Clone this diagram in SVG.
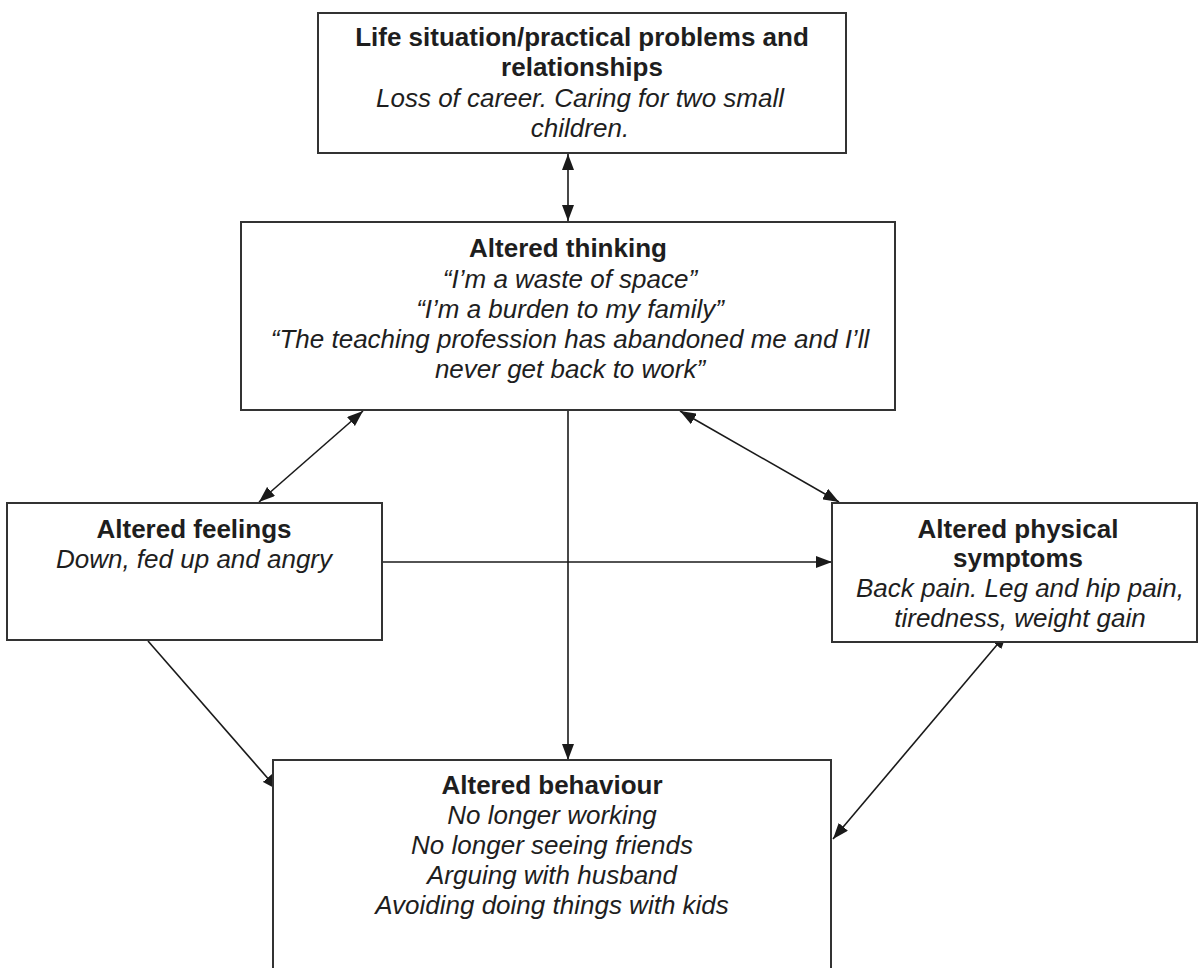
<svg xmlns="http://www.w3.org/2000/svg" width="1199" height="968" viewBox="0 0 1199 968">
<defs>
<marker id="ah" viewBox="0 0 16 12" refX="16" refY="6" markerWidth="16" markerHeight="12" markerUnits="userSpaceOnUse" orient="auto-start-reverse">
<path d="M0,0 L16,6 L0,12 z" fill="#1a1a1a"/>
</marker>
<style>
.box{fill:#fff;stroke:#333;stroke-width:2}
.t{font-family:"Liberation Sans",Arial,sans-serif;font-size:26px;fill:#1e1e1e;text-anchor:middle}
.b{font-weight:bold}
.i{font-style:italic}
.c{stroke:#1a1a1a;stroke-width:1.6;fill:none}
</style>
</defs>
<rect width="1199" height="968" fill="#fff"/>
<g id="connectors">
<line class="c" x1="568" y1="154" x2="568" y2="221" marker-start="url(#ah)" marker-end="url(#ah)"/>
<line class="c" x1="568" y1="411" x2="568" y2="760" marker-end="url(#ah)"/>
<line class="c" x1="363" y1="411" x2="259" y2="502" marker-start="url(#ah)" marker-end="url(#ah)"/>
<line class="c" x1="680" y1="411" x2="839" y2="502" marker-start="url(#ah)" marker-end="url(#ah)"/>
<line class="c" x1="383" y1="562" x2="832" y2="562" marker-end="url(#ah)"/>
<line class="c" x1="148" y1="641" x2="278" y2="790" marker-end="url(#ah)"/>
<line class="c" x1="1007" y1="633" x2="833" y2="839" marker-start="url(#ah)" marker-end="url(#ah)"/>
</g>
<g id="life">
<rect class="box" x="318" y="13" width="528" height="140"/>
<text class="t b" x="582" y="46">Life situation/practical problems and</text>
<text class="t b" x="582" y="76">relationships</text>
<text class="t i" x="580" y="107">Loss of career. Caring for two small</text>
<text class="t i" x="580" y="137">children.</text>
</g>
<g id="thinking">
<rect class="box" x="241" y="222" width="654" height="188"/>
<text class="t b" x="568" y="257">Altered thinking</text>
<text class="t i" x="570" y="288">“I’m a waste of space”</text>
<text class="t i" x="570" y="318">“I’m a burden to my family”</text>
<text class="t i" x="570" y="348">“The teaching profession has abandoned me and I’ll</text>
<text class="t i" x="570" y="378">never get back to work”</text>
</g>
<g id="feelings">
<rect class="box" x="7" y="503" width="375" height="137"/>
<text class="t b" x="194" y="538">Altered feelings</text>
<text class="t i" x="194" y="568">Down, fed up and angry</text>
</g>
<g id="physical">
<rect class="box" x="832" y="503" width="365" height="139"/>
<text class="t b" x="1018" y="538">Altered physical</text>
<text class="t b" x="1018" y="567">symptoms</text>
<text class="t i" x="1020" y="597">Back pain. Leg and hip pain,</text>
<text class="t i" x="1020" y="627">tiredness, weight gain</text>
</g>
<g id="behaviour">
<rect class="box" x="273" y="760" width="558" height="220"/>
<text class="t b" x="552" y="794">Altered behaviour</text>
<text class="t i" x="552" y="824">No longer working</text>
<text class="t i" x="552" y="854">No longer seeing friends</text>
<text class="t i" x="552" y="884">Arguing with husband</text>
<text class="t i" x="552" y="914">Avoiding doing things with kids</text>
</g>
</svg>
